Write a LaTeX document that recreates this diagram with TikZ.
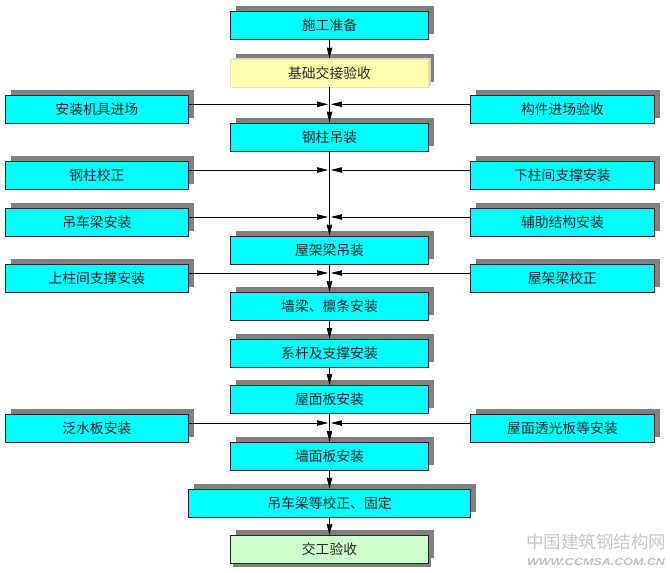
\documentclass[tikz,border=0pt]{standalone}
\usepackage{fontspec}
\newfontfamily\cjk{Noto Sans CJK SC}
\newfontfamily\wmfont{Liberation Sans}
\usetikzlibrary{arrows.meta,shadows,calc}
\definecolor{boxcyan}{RGB}{0,255,255}
\definecolor{boxyellow}{RGB}{255,255,176}
\definecolor{boxgreen}{RGB}{204,255,204}
\definecolor{shadowgray}{RGB}{128,128,128}
\begin{document}
\begin{tikzpicture}[x=1pt,y=-1pt,
  stepbox/.style={draw=black!85,fill=boxcyan,line width=0.8pt,minimum width=198pt,minimum height=28pt,
    inner sep=0pt,text=black!85,font=\cjk\fontsize{13.8}{16}\selectfont,
    drop shadow={shadow xshift=5.5pt,shadow yshift=5.5pt,fill=shadowgray,opacity=1}},
  sidebox/.style={stepbox,minimum width=183.7pt},
  arr/.style={-{Stealth[length=11pt,width=5.5pt,inset=0.5pt]},line width=0.7pt}]
\useasboundingbox (0,0) rectangle (670,573);
% main column
\node[stepbox] (pre) at (329.5,25.5) {施工准备};
\node[stepbox,fill=boxyellow,draw={rgb,255:red,230;green,230;blue,180},
  drop shadow={shadow xshift=2pt,shadow yshift=1pt,fill={rgb,255:red,215;green,215;blue,175},opacity=1}] (base) at (329.5,73) {基础交接验收};
\foreach \n/\y/\t in {col/137/钢柱吊装, truss/250/屋架梁吊装, wall/306.5/墙梁、檩条安装,
  tie/353.3/系杆及支撑安装, roof/399.3/屋面板安装, wallp/456.3/墙面板安装}
  \node[stepbox] (\n) at (329.5,\y) {\t};
\node[stepbox,minimum width=281.6pt] (crane) at (329.5,503) {吊车梁等校正、固定};
\node[stepbox,fill=boxgreen,
  drop shadow={shadow xshift=2.5pt,shadow yshift=-3pt,fill=shadowgray,opacity=1}] (final) at (329.5,549.5) {交工验收};
% side boxes
\foreach \n/\y/\t in {la/109.3/安装机具进场, lb/175/钢柱校正, lc/222/吊车梁安装, ld/278/上柱间支撑安装, le/428/泛水板安装}
  \node[sidebox] (\n) at (96.85,\y) {\t};
\foreach \n/\y/\t in {ra/109.3/构件进场验收, rb/175/下柱间支撑安装, rc/222/辅助结构安装, rd/278/屋架梁校正, re/428/屋面透光板等安装}
  \node[sidebox] (\n) at (562.4,\y) {\t};
% arrows
\foreach \a/\b in {pre/base, base/col, col/truss, truss/wall, wall/tie, tie/roof, roof/wallp, wallp/crane, crane/final}
  \draw[arr] (\a) -- (\b);
\foreach \n in {la,lb,lc,ld,le}
  \draw[arr] ([yshift=5pt]\n.east) -- ($(\n.east -| pre.south)+(-1.5,-5)$);
\foreach \n in {ra,rb,rc,rd,re}
  \draw[arr] ([yshift=5pt]\n.west) -- ($(\n.west -| pre.south)+(1.5,-5)$);
% watermark
\node[text=black!22,font=\cjk\fontsize{17.5}{20}\selectfont] (mark) at (596,541.5) {中国建筑钢结构网};
\node[text=black!25,font=\wmfont\bfseries\itshape\fontsize{10}{12}\selectfont,xscale=1.25] (site) at (596,562.5) {WWW.CCMSA.COM.CN};
\end{tikzpicture}
\end{document}
